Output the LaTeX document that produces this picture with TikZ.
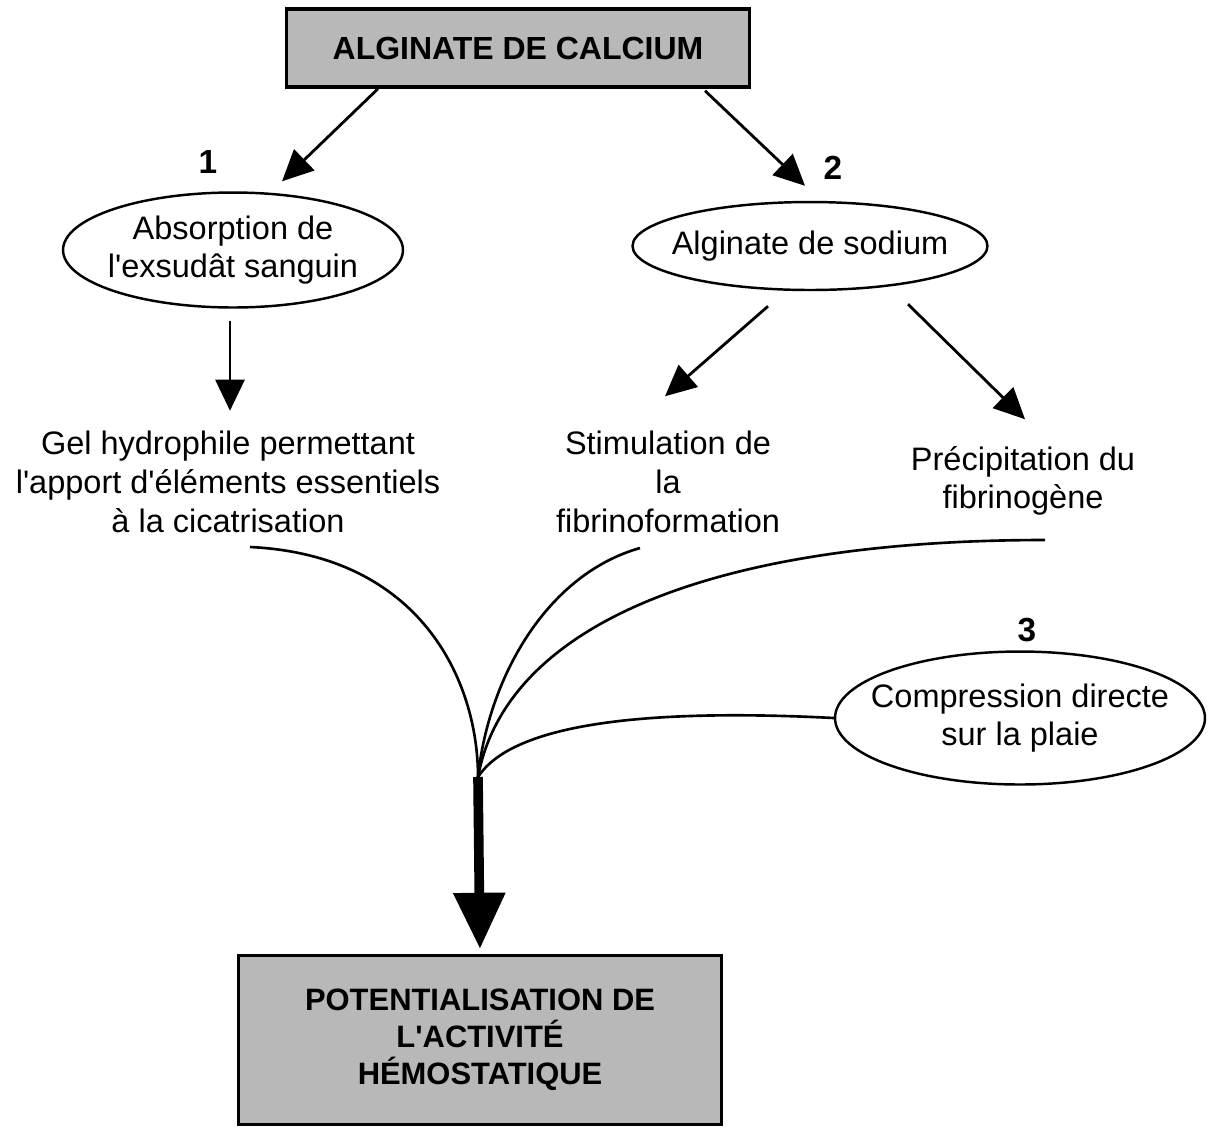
\documentclass[tikz,border=0pt]{standalone}
\usepackage{fontspec}
\setmainfont{Liberation Sans}
\usetikzlibrary{arrows.meta,positioning,shapes.geometric,calc}

\begin{document}
\begin{tikzpicture}[x=0.02cm, y=-0.02cm,
    titlebox/.style={rectangle, draw, line width=2pt, fill=black!28, font=\fontsize{18.2}{21}\selectfont\bfseries, align=center},
    bubble/.style={ellipse, draw, line width=1.4pt, font=\fontsize{18.5}{22}\selectfont, align=center, inner xsep=-2cm, inner ysep=-1cm},
    plain/.style={font=\fontsize{18.5}{22}\selectfont, align=center},
    num/.style={font=\fontsize{19}{22}\selectfont\bfseries},
    edge/.style={-{Triangle[length=0.62cm, width=0.58cm]}, line width=1.6pt},
    stem/.style={line width=1.5pt},
    bigarrow/.style={-{Triangle[length=1.12cm, width=1cm]}, line width=5.5pt, shorten >=0.1cm}
]
\useasboundingbox (0,0) rectangle (1229,1127);

\node[titlebox, minimum width=9.26cm, minimum height=1.56cm] (calcium) at (518,48) {ALGINATE DE CALCIUM};

\node[bubble, minimum width=6.8cm, minimum height=2.3cm] (absorb) at (233,250) {Absorption de\\l\textquotesingle exsudât sanguin};
\node[bubble, minimum width=7.1cm, minimum height=1.76cm] (sodium) at (810,246) {Alginate de sodium};
\node[bubble, minimum width=7.4cm, minimum height=2.66cm] (compress) at (1020,718) {Compression directe\\sur la plaie};

\node[num] (n1) at (208,162) {1};
\node[num] (n2) at (833,168) {2};
\node[num] (n3) at (1027,630) {3};

\node[plain] (gel) at (228,482) {Gel hydrophile permettant\\l\textquotesingle apport d\textquotesingle éléments essentiels\\à la cicatrisation};
\node[plain] (stim) at (668,482) {Stimulation de\\la\\fibrinoformation};
\node[plain] (precip) at (1023,481) {Précipitation du\\fibrinogène};

\node[titlebox, minimum width=9.66cm, minimum height=3.38cm, font=\fontsize{17.6}{21}\selectfont\bfseries] (result) at (480,1040) {POTENTIALISATION DE\\L\textquotesingle ACTIVITÉ\\HÉMOSTATIQUE};

\draw[edge] ($(calcium.south)+(-140,0)$) -- ($(absorb.north)+(49,-10)$);
\draw[edge] ($(calcium.south)+(187,2)$) -- ($(sodium.north)+(-5,-15)$);
\draw[edge] ($(absorb.south)+(-3,12)$) -- ++(0,90);
\draw[edge] ($(sodium.south)+(-42,15)$) -- ++(-103,90);
\draw[edge] ($(sodium.south)+(98,13)$) -- ++(117,115);

% branches joining above the big arrow
\coordinate (merge) at (478,777);
\coordinate (gelend) at (250,547);
\coordinate (stimend) at (640,548);
\coordinate (precipend) at (1045,540);

\draw[stem] (gelend) .. controls (420,555) and (478,680) .. (merge);
\draw[stem] (stimend) .. controls (545,575) and (488,680) .. (merge);
\draw[stem] (precipend) .. controls (700,540) and (505,630) .. (merge);
\draw[stem] (compress.west) .. controls (600,706) and (505,735) .. (merge);

\draw[bigarrow] (merge) -- (result.north);
\end{tikzpicture}
\end{document}
